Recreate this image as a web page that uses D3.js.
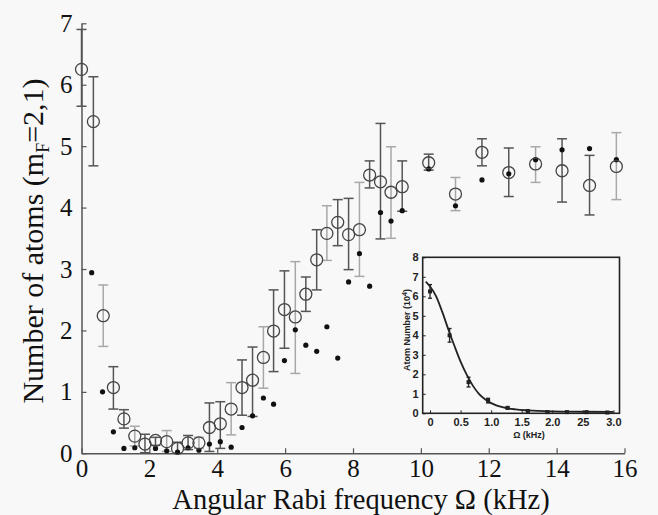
<!DOCTYPE html>
<html>
<head>
<meta charset="utf-8">
<script src="https://cdn.jsdelivr.net/npm/d3@7"></script>
<style>
  html, body { margin: 0; padding: 0; background: #f8f8f8; }
  svg { display: block; }
</style>
</head>
<body>
<div id="chart"></div>
<script>
// main panel: open circles with error bars
const omega = [0, 0.35, 0.64, 0.94, 1.25, 1.57, 1.87, 2.18, 2.51, 2.83, 3.14, 3.46, 3.77, 4.09, 4.41, 4.73, 5.04, 5.36, 5.66, 5.98, 6.30, 6.61, 6.93, 7.23, 7.55, 7.87, 8.19, 8.49, 8.81, 9.12, 9.45, 10.23, 11.02, 11.80, 12.59, 13.38, 14.16, 14.97, 15.76];
const meanAtoms = [6.25, 5.40, 2.24, 1.07, 0.56, 0.28, 0.15, 0.21, 0.19, 0.08, 0.17, 0.17, 0.42, 0.48, 0.72, 1.07, 1.19, 1.56, 1.99, 2.34, 2.22, 2.59, 3.15, 3.58, 3.76, 3.56, 3.64, 4.53, 4.42, 4.25, 4.34, 4.73, 4.22, 4.90, 4.57, 4.71, 4.60, 4.36, 4.67];
const errHigh = [6.90, 6.13, 2.74, 1.41, 0.71, 0.44, 0.31, 0.26, 0.37, 0.18, 0.29, 0.26, 0.82, 0.84, 1.15, 1.52, 1.73, 2.06, 2.66, 2.97, 3.12, 2.87, 3.64, 4.03, 4.13, 4.15, 4.41, 4.76, 5.37, 4.99, 4.76, 4.87, 4.49, 5.12, 4.97, 4.99, 5.12, 4.85, 5.22];
const errLow = [5.65, 4.68, 1.74, 0.72, 0.41, 0.12, 0.01, 0.13, 0.03, 0.00, 0.06, 0.08, 0.03, 0.08, 0.30, 0.62, 0.60, 1.06, 1.33, 1.71, 1.30, 2.31, 2.66, 3.14, 3.38, 2.99, 2.88, 4.32, 3.49, 3.50, 3.94, 4.61, 3.95, 4.68, 4.18, 4.41, 4.09, 3.88, 4.13];

// main panel: filled dots
const dotOmega = [0.30, 0.62, 0.94, 1.25, 1.57, 2.18, 2.51, 2.83, 3.14, 3.46, 3.77, 4.09, 4.41, 4.73, 5.04, 5.36, 5.66, 5.98, 6.30, 6.61, 6.93, 7.23, 7.55, 7.87, 8.19, 8.49, 8.81, 9.12, 9.45, 10.23, 11.02, 11.80, 12.59, 13.38, 14.16, 14.97, 15.76];
const dotAtoms = [2.94, 1.00, 0.35, 0.08, 0.09, 0.08, 0.04, 0.02, 0.09, 0.05, 0.15, 0.19, 0.10, 0.42, 0.61, 0.90, 0.80, 1.51, 2.01, 1.76, 1.66, 2.06, 1.55, 2.79, 3.25, 2.72, 3.92, 3.78, 3.95, 4.63, 4.03, 4.45, 4.55, 4.78, 4.94, 4.96, 4.78];

const xTicks = [0, 2, 4, 6, 8, 10, 12, 14, 16];
const yTicks = [0, 1, 2, 3, 4, 5, 6, 7];

// inset
const insetOmega = [0, 0.32, 0.63, 0.95, 1.27, 1.60, 1.92, 2.24, 2.56, 2.90];
const insetAtoms = [6.25, 4.00, 1.60, 0.65, 0.28, 0.12, 0.06, 0.06, 0.06, 0.04];
const insetErr = [0.35, 0.35, 0.25, 0.12, 0.06, 0.04, 0.03, 0.03, 0.03, 0.03];
const fitOmega = [-0.07, 0, 0.1, 0.2, 0.3, 0.4, 0.5, 0.6, 0.7, 0.8, 0.9, 1.0, 1.2, 1.4, 1.6, 2.0, 2.5, 3.0];
const fitAtoms = [6.75, 6.50, 6.00, 5.20, 4.30, 3.45, 2.65, 1.98, 1.42, 1.00, 0.72, 0.52, 0.30, 0.20, 0.15, 0.10, 0.08, 0.07];
const insetXTicks = [0, 0.5, 1.0, 1.5, 2.0, 2.5, 3.0];
const insetXLabels = ["0", "0.5", "1.0", "1.5", "2.0", "25", "3.0"];
const insetYTicks = [0, 1, 2, 3, 4, 5, 6, 7, 8];

const width = 658;
const height = 515;
const serif = '"Liberation Serif", "DejaVu Serif", serif';

const svg = d3.select('#chart')
    .append('svg')
    .attr('width', width)
    .attr('height', height)
    .style('background', '#f8f8f8');

const x = d3.scaleLinear().domain([0, 16]).range([81.5, 624.5]);
const y = d3.scaleLinear().domain([0, 7]).range([453.3, 23.3]);

// axes, ticks pointing inward
const xAxis = svg.append('g')
    .attr('transform', `translate(0,${y(0)})`)
    .call(d3.axisBottom(x).tickValues(xTicks).tickFormat(d3.format('d'))
        .tickSizeInner(-5).tickSizeOuter(0).tickPadding(6));

const yAxis = svg.append('g')
    .attr('transform', `translate(${x(0)},0)`)
    .call(d3.axisLeft(y).tickValues(yTicks).tickFormat(d3.format('d'))
        .tickSizeInner(-5).tickSizeOuter(0).tickPadding(9));

[xAxis, yAxis].forEach(ax => {
    ax.select('.domain').attr('stroke', '#555').attr('stroke-width', 1.5);
    ax.selectAll('.tick line').attr('stroke', '#555').attr('stroke-width', 1.2);
    ax.selectAll('.tick text')
        .attr('fill', '#111')
        .style('font-family', serif)
        .style('font-size', '25px');
});

// error bars
const capW = 5;
const bars = svg.append('g')
    .selectAll('g')
    .data(omega.map((o, i) => ({o, m: meanAtoms[i], hi: errHigh[i], lo: errLow[i], i})))
    .join('g')
    .attr('stroke', d => d.i % 3 === 2 ? '#a8a8a8' : '#555')
    .attr('stroke-width', 1.5);

bars.append('line')
    .attr('x1', d => x(d.o)).attr('x2', d => x(d.o))
    .attr('y1', d => y(d.hi)).attr('y2', d => y(d.lo));
bars.append('line')
    .attr('x1', d => x(d.o) - capW).attr('x2', d => x(d.o) + capW)
    .attr('y1', d => y(d.hi)).attr('y2', d => y(d.hi));
bars.append('line')
    .attr('x1', d => x(d.o) - capW).attr('x2', d => x(d.o) + capW)
    .attr('y1', d => y(d.lo)).attr('y2', d => y(d.lo));

// filled dots
svg.append('g')
    .selectAll('circle')
    .data(dotOmega.map((o, i) => ({o, a: dotAtoms[i]})))
    .join('circle')
    .attr('cx', d => x(d.o))
    .attr('cy', d => y(d.a))
    .attr('r', 2.6)
    .attr('fill', '#111');

// open circles
svg.append('g')
    .selectAll('circle')
    .data(omega.map((o, i) => ({o, m: meanAtoms[i]})))
    .join('circle')
    .attr('cx', d => x(d.o))
    .attr('cy', d => y(d.m))
    .attr('r', 6)
    .attr('fill', 'none')
    .attr('stroke', '#444')
    .attr('stroke-width', 1.3);

// axis titles
svg.append('text')
    .attr('x', 361)
    .attr('y', 509)
    .attr('text-anchor', 'middle')
    .style('font-family', serif)
    .style('font-size', '28.5px')
    .attr('fill', '#111')
    .text('Angular Rabi frequency Ω (kHz)');

const yTitle = svg.append('text')
    .attr('transform', 'translate(43,241) rotate(-90)')
    .attr('text-anchor', 'middle')
    .style('font-family', serif)
    .style('font-size', '30px')
    .attr('fill', '#111');
yTitle.append('tspan').text('Number of atoms (m');
yTitle.append('tspan').attr('dy', 6).style('font-size', '18px').text('F');
yTitle.append('tspan').attr('dy', -6).text('=2,1)');

// ---- inset ----
const ix = d3.scaleLinear().domain([-0.12, 3.1]).range([422.7, 619.5]);
const iy = d3.scaleLinear().domain([0, 8]).range([413.3, 257.3]);
const inset = svg.append('g');
const sans = 'Arial, "Liberation Sans", sans-serif';

inset.append('rect')
    .attr('x', ix(-0.12))
    .attr('y', iy(8))
    .attr('width', ix(3.1) - ix(-0.12))
    .attr('height', iy(0) - iy(8))
    .attr('fill', 'none')
    .attr('stroke', '#222')
    .attr('stroke-width', 1.6);

const ixAxis = inset.append('g')
    .attr('transform', `translate(0,${iy(0)})`)
    .call(d3.axisBottom(ix).tickValues(insetXTicks)
        .tickFormat((d, i) => insetXLabels[i])
        .tickSizeInner(-3).tickSizeOuter(0).tickPadding(5));
const iyAxis = inset.append('g')
    .attr('transform', `translate(${ix(-0.12)},0)`)
    .call(d3.axisLeft(iy).tickValues(insetYTicks)
        .tickSizeInner(-3).tickSizeOuter(0).tickPadding(4));

[ixAxis, iyAxis].forEach(ax => {
    ax.select('.domain').remove();
    ax.selectAll('.tick line').attr('stroke', '#222');
    ax.selectAll('.tick text')
        .attr('fill', '#222')
        .style('font-family', sans)
        .style('font-weight', 'bold')
        .style('font-size', '11px');
});

// fit curve
inset.append('path')
    .datum(fitOmega.map((o, i) => [o, fitAtoms[i]]))
    .attr('fill', 'none')
    .attr('stroke', '#222')
    .attr('stroke-width', 1.8)
    .attr('d', d3.line().x(d => ix(d[0])).y(d => iy(d[1])).curve(d3.curveMonotoneX));

const ibars = inset.append('g')
    .attr('stroke', '#222')
    .attr('stroke-width', 1.3)
    .selectAll('g')
    .data(insetOmega.map((o, i) => ({o, a: insetAtoms[i], e: insetErr[i]})))
    .join('g');
ibars.append('line')
    .attr('x1', d => ix(d.o)).attr('x2', d => ix(d.o))
    .attr('y1', d => iy(d.a + d.e)).attr('y2', d => iy(d.a - d.e));
ibars.append('line')
    .attr('x1', d => ix(d.o) - 2).attr('x2', d => ix(d.o) + 2)
    .attr('y1', d => iy(d.a + d.e)).attr('y2', d => iy(d.a + d.e));
ibars.append('line')
    .attr('x1', d => ix(d.o) - 2).attr('x2', d => ix(d.o) + 2)
    .attr('y1', d => iy(d.a - d.e)).attr('y2', d => iy(d.a - d.e));
inset.append('g')
    .selectAll('rect')
    .data(insetOmega.map((o, i) => ({o, a: insetAtoms[i]})))
    .join('rect')
    .attr('x', d => ix(d.o) - 2)
    .attr('y', d => iy(d.a) - 2)
    .attr('width', 4)
    .attr('height', 4)
    .attr('fill', '#222');

inset.append('text')
    .attr('x', 529)
    .attr('y', 438)
    .attr('text-anchor', 'middle')
    .style('font-family', sans)
    .style('font-weight', 'bold')
    .style('font-size', '9px')
    .attr('fill', '#222')
    .text('Ω (kHz)');

const iyTitle = inset.append('text')
    .attr('transform', 'translate(410,330) rotate(-90)')
    .attr('text-anchor', 'middle')
    .style('font-family', sans)
    .style('font-weight', 'bold')
    .style('font-size', '9px')
    .attr('fill', '#222');
iyTitle.append('tspan').text('Atom Number (10');
iyTitle.append('tspan').attr('dy', -3).style('font-size', '7px').text('4');
iyTitle.append('tspan').attr('dy', 3).text(')');
</script>
</body>
</html>
